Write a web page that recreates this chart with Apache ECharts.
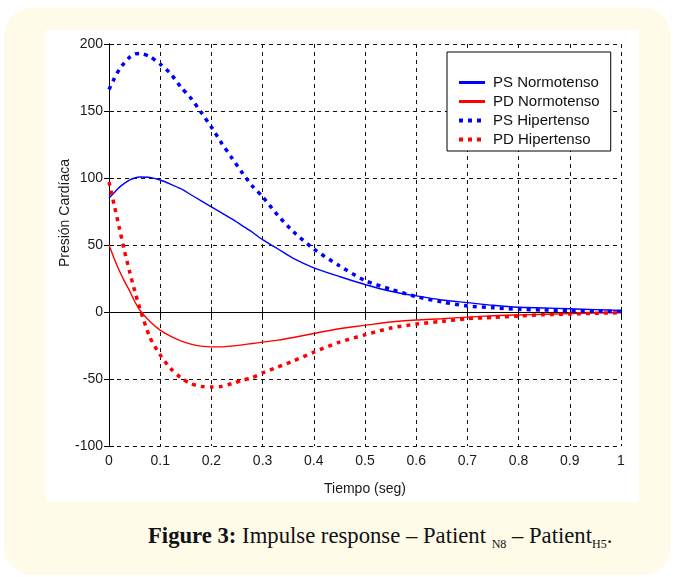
<!DOCTYPE html>
<html>
<head>
<meta charset="utf-8">
<script src="https://cdn.jsdelivr.net/npm/echarts@6/dist/echarts.min.js"></script>
<style>
  body { margin: 0; background: #ffffff; width: 674px; height: 577px; position: relative; overflow: hidden; }
  .card { position: absolute; left: 4px; top: 8px; width: 667px; height: 567px; background: #fffbe9; border-radius: 28px; }
  #grid { position: absolute; left: 46px; top: 30px; width: 593px; height: 472px; background: #ffffff; }
  .caption { position: absolute; left: 148px; top: 523px; white-space: nowrap;
    font-family: 'Liberation Serif', 'DejaVu Serif', serif; font-size: 22.7px; color: #111; }
  .caption b { font-weight: bold; }
  .caption sub { font-size: 12px; vertical-align: -5px; }
</style>
</head>
<body>
<div class="card"></div>
<div id="grid"></div>
<div class="caption"><b>Figure 3:</b> Impulse response – Patient <sub>N8</sub> – Patient<sub>H5</sub>.</div>
<script>
// time (seg)
const tiempo = [0, 0.01, 0.02, 0.03, 0.04, 0.05, 0.06, 0.08, 0.1, 0.12, 0.14, 0.16, 0.18, 0.2,
  0.22, 0.24, 0.26, 0.28, 0.3, 0.33, 0.36, 0.4, 0.45, 0.5, 0.55, 0.6, 0.65, 0.7, 0.75, 0.8,
  0.85, 0.9, 0.95, 1.0];

const psNormo = [85, 89, 93, 96, 98.5, 100, 100.8, 100.5, 98.5, 95.5, 92, 87.5, 83, 78.5,
  74, 69.5, 64.5, 59.5, 54, 47, 40, 33, 26.5, 20.5, 15.5, 12, 9, 7, 5, 3.5,
  3, 2.4, 1.8, 1.2];

const pdNormo = [50, 40, 31, 23, 16, 8, 1.5, -7, -13.5, -18, -21.5, -24, -25.5, -26,
  -26, -25.4, -24.5, -23.5, -22.5, -21, -19, -16, -12.5, -10, -7.5, -6, -5, -3.8, -2.8, -2.2,
  -1.7, -1.2, -0.8, -0.5];

const psHiper = [166, 174, 181, 186, 190, 192.5, 193, 190.5, 185, 178, 168, 159.5, 149, 138,
  126, 115, 104, 94, 86, 72, 60, 47, 34.5, 23.5, 17, 11.5, 7.5, 4.5, 3.2, 2,
  1.5, 1, 0.6, 0.4];

const pdHiper = [97, 80, 63, 46, 30.5, 16, 3, -19, -32, -42, -49, -53.5, -55.5, -56,
  -55.5, -53.5, -51, -49, -45.5, -41, -36.5, -30, -22.5, -17, -12, -9, -7, -5, -4, -3,
  -2, -1.5, -1, -0.5];

const seriesNames = ['PS Normotenso', 'PD Normotenso', 'PS Hipertenso', 'PD Hipertenso'];

const myChart = echarts.init(document.getElementById('grid'));

const pairs = (ys) => tiempo.map((t, i) => [t, ys[i]]);

const gridDash = {
  show: true,
  lineStyle: { color: '#111', width: 1, type: [4, 4] },
};

const labelFont = {
  fontFamily: 'Liberation Sans',
  fontSize: 14,
  color: '#1a1a1a',
};

const sideAxis = {
  axisLine: { show: true, lineStyle: { color: '#000', width: 1 } },
  axisTick: { show: true, inside: true, length: 5, lineStyle: { color: '#000' } },
  axisLabel: { show: false },
  splitLine: { show: false },
};

const option = {
  animation: false,
  grid: { left: 63, top: 14, width: 512, height: 402 },
  legend: {
    orient: 'vertical',
    left: 401,
    top: 22,
    padding: [23, 11, 4, 10],
    itemWidth: 26,
    itemHeight: 14,
    itemGap: 4,
    backgroundColor: '#fff',
    borderColor: '#000',
    borderWidth: 1,
    itemStyle: { opacity: 0 },
    textStyle: {
      fontFamily: 'Liberation Sans', fontSize: 15, color: '#111',
      width: 112, overflow: 'truncate', padding: [0, 0, 0, 3],
    },
    data: [
      { name: seriesNames[0], lineStyle: { width: 3 } },
      { name: seriesNames[1], lineStyle: { width: 3 } },
      { name: seriesNames[2], lineStyle: { width: 4, type: [4, 5] } },
      { name: seriesNames[3], lineStyle: { width: 4, type: [4, 5] } },
    ],
  },
  xAxis: [
    {
      type: 'value',
      min: 0,
      max: 1,
      interval: 0.1,
      name: 'Tiempo (seg)',
      nameLocation: 'middle',
      nameGap: 36,
      nameTextStyle: labelFont,
      axisLine: { show: true, lineStyle: { color: '#000', width: 1 } },
      axisTick: { show: true, inside: true, length: 5, lineStyle: { color: '#000' } },
      axisLabel: Object.assign({ margin: 8, formatter: (v) => String(+v.toFixed(1)) }, labelFont),
      splitLine: gridDash,
    },
    Object.assign({ type: 'value', min: 0, max: 1, interval: 0.1, position: 'top' }, sideAxis),
  ],
  yAxis: [
    {
      type: 'value',
      min: -100,
      max: 200,
      interval: 50,
      axisLine: { show: true, lineStyle: { color: '#000', width: 1 } },
      axisTick: { show: true, inside: true, length: 5, lineStyle: { color: '#000' } },
      axisLabel: Object.assign({ margin: 6 }, labelFont),
      splitLine: gridDash,
    },
    Object.assign({ type: 'value', min: -100, max: 200, interval: 50, position: 'right' }, sideAxis),
  ],
  graphic: [
    {
      type: 'text',
      x: 19,
      y: 183,
      rotation: Math.PI / 2,
      style: {
        text: 'Presión Cardíaca',
        fontFamily: 'Liberation Sans',
        fontSize: 14,
        fill: '#1a1a1a',
        align: 'center',
        verticalAlign: 'middle',
      },
    },
  ],
  series: [
    {
      name: seriesNames[0],
      type: 'line',
      data: pairs(psNormo),
      symbol: 'none',
      smooth: 0.25,
      color: '#0000ff',
      lineStyle: { width: 1.4 },
    },
    {
      name: seriesNames[1],
      type: 'line',
      data: pairs(pdNormo),
      symbol: 'none',
      smooth: 0.25,
      color: '#ff0000',
      lineStyle: { width: 1.4 },
    },
    {
      name: seriesNames[2],
      type: 'line',
      data: pairs(psHiper),
      symbol: 'none',
      smooth: 0.25,
      color: '#0000ff',
      lineStyle: { width: 3.5, type: [4, 5], cap: 'butt' },
    },
    {
      name: seriesNames[3],
      type: 'line',
      data: pairs(pdHiper),
      symbol: 'none',
      smooth: 0.25,
      color: '#ff0000',
      lineStyle: { width: 3.5, type: [4, 5], cap: 'butt' },
    },
  ],
};

myChart.setOption(option);
</script>
</body>
</html>
